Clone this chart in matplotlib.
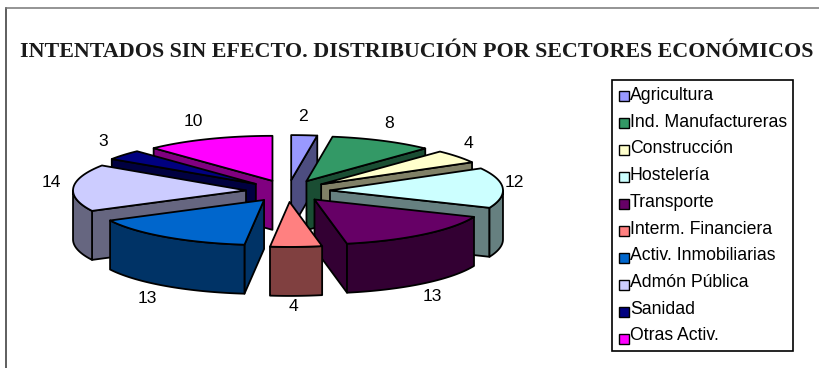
import numpy as np
import matplotlib
matplotlib.use("Agg")
import matplotlib.pyplot as plt
from matplotlib.patches import Polygon, Rectangle

categories = ["Agricultura", "Ind. Manufactureras", "Construcción", "Hostelería",
              "Transporte", "Interm. Financiera", "Activ. Inmobiliarias",
              "Admón Pública", "Sanidad", "Otras Activ."]
values = [2, 8, 4, 12, 13, 4, 13, 14, 3, 10]
colors = ["#9999FF", "#339966", "#FFFFCC", "#CCFFFF", "#660066",
          "#FF8080", "#0066CC", "#CCCCFF", "#000080", "#FF00FF"]
title = "INTENTADOS SIN EFECTO. DISTRIBUCIÓN POR SECTORES ECONÓMICOS"

# pie geometry in pixels
CX, CY = 288, 191
RX, RY = 173, 45
EXPLODE = 0.243
DEPTH = 49
LW = 1.3


def dark(color):
    r, g, b = matplotlib.colors.to_rgb(color)
    return (r * 0.5, g * 0.5, b * 0.5)


def rim(a0, a1):
    # points of the ellipse, angles clockwise from the top, in degrees
    t = np.radians(np.linspace(a0, a1, 60))
    return RX * np.sin(t), RY * np.cos(t)


def draw_slice(ax, a0, a1, color):
    mid = np.radians((a0 + a1) / 2)
    ox = CX + EXPLODE * RX * np.sin(mid)
    oy = CY - EXPLODE * RY * np.cos(mid)
    side = dark(color)
    style = dict(edgecolor="black", linewidth=LW, joinstyle="round")

    def wall(a):
        t = np.radians(a)
        x, y = ox + RX * np.sin(t), oy - RY * np.cos(t)
        pts = [(ox, oy), (x, y), (x, y + DEPTH), (ox, oy + DEPTH)]
        ax.add_patch(Polygon(pts, facecolor=side, **style))

    # radial walls that face the viewer
    if np.sin(np.radians(a0)) < 0:
        wall(a0)
    if np.sin(np.radians(a1)) > 0:
        wall(a1)

    # outer wall, only the front half of the ellipse shows
    f0, f1 = max(a0, 90), min(a1, 270)
    if f1 > f0:
        dx, dy = rim(f0, f1)
        top = np.column_stack([ox + dx, oy - dy])
        low = np.column_stack([ox + dx, oy - dy + DEPTH])[::-1]
        ax.add_patch(Polygon(np.vstack([top, low]), facecolor=side, **style))

    dx, dy = rim(a0, a1)
    pts = np.vstack([[ox, oy], np.column_stack([ox + dx, oy - dy])])
    ax.add_patch(Polygon(pts, facecolor=color, **style))


fig = plt.figure(figsize=(8.2, 3.68), dpi=100)
ax = fig.add_axes([0, 0, 1, 1])
ax.set_xlim(0, 820)
ax.set_ylim(368, 0)
ax.axis("off")

# frame runs off the picture on the right and at the bottom
ax.plot([6, 6], [7.5, 368], color="#333333", linewidth=1.1)
ax.plot([6, 820], [7.5, 7.5], color="#777777", linewidth=1.1)

ax.text(417, 57, title, family="Liberation Serif", fontweight="bold", fontsize=15.8,
        ha="center", va="baseline", color="#1a1a1a")

edges = np.cumsum([0] + values) / sum(values) * 360
mids = (edges[:-1] + edges[1:]) / 2

# back slices first so the front ones cover them
for i in sorted(range(len(values)), key=lambda k: -abs(mids[k] - 180)):
    draw_slice(ax, edges[i], edges[i + 1], colors[i])

# value labels around the pie
for val, m in zip(values, mids):
    t = np.radians(m)
    s, c = np.sin(t), np.cos(t)
    x = CX - 5 + 232 * np.sign(s) * abs(s) ** 0.95
    if c > 0:
        y = 187 - 71 * c
    else:
        y = 187 + DEPTH + 26 + 45 * abs(c)
    ax.text(x, y, str(val), family="Liberation Sans", fontsize=12.6, ha="center", va="center")

# legend
ax.add_patch(Rectangle((612, 80), 181, 271, facecolor="white", edgecolor="black", linewidth=1.2))
for i, (name, col) in enumerate(zip(categories, colors)):
    ax.add_patch(Rectangle((619.5, 91 + 27 * i), 10, 10, facecolor=col, edgecolor="black", linewidth=1.0))
    ax.text(630, 100 + 26.7 * i, name, family="Liberation Sans", fontsize=12.7, ha="left", va="baseline")

fig.savefig("out.png", dpi=100)
